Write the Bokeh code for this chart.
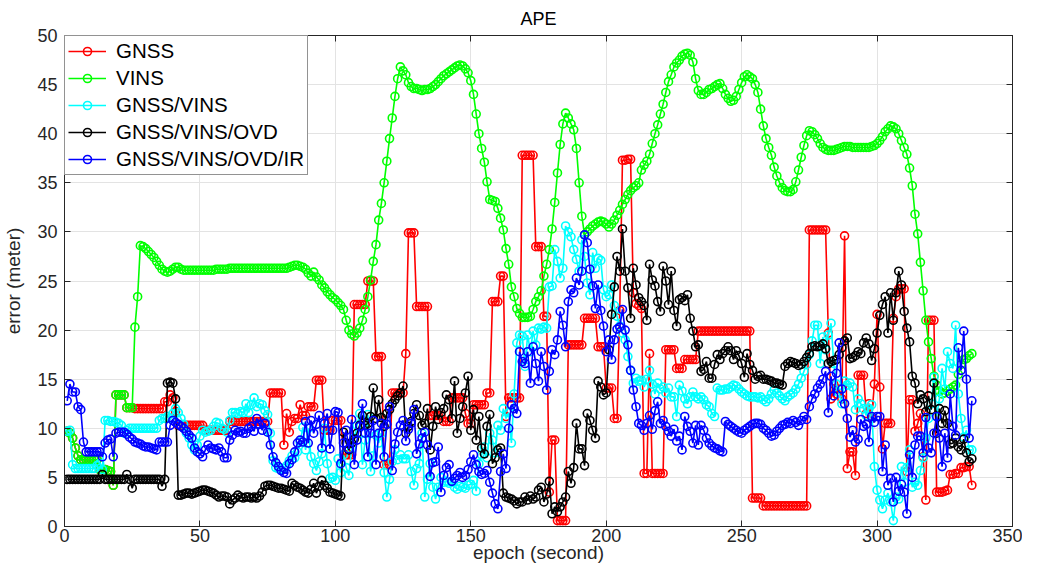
from bokeh.plotting import figure
from bokeh.models import Legend, LegendItem, LinearAxis, Range1d, FixedTicker, CustomLabelingPolicy
from bokeh.embed import file_html
from bokeh.resources import INLINE

# ---------------- data ----------------
gnss = [
    9.7, 9.5, 9.0, 8.0, 7.2, 6.8, 6.8, 6.8, 6.8, 6.8,
    6.8, 6.8, 5.8, 5.8, 5.8, 5.7, 5.6, 4.2, 13.4, 13.4,
    13.4, 13.4, 12.1, 12.1, 12.1, 12.0, 12.0, 12.0, 12.0, 12.0,
    12.0, 12.0, 12.0, 12.0, 12.0, 12.0, 12.7, 12.7, 13.4, 13.1,
    11.7, 10.3, 10.3, 10.3, 10.3, 10.3, 10.3, 10.3, 10.3, 10.3,
    10.3, 9.8, 9.8, 9.8, 9.8, 9.8, 9.8, 9.8, 9.8, 9.8,
    10.7, 10.7, 10.7, 10.7, 10.7, 10.7, 10.7, 10.7, 10.7, 10.7,
    10.7, 10.7, 10.7, 10.7, 10.7, 13.6, 13.6, 13.6, 13.6, 13.6,
    8.3, 11.5, 9.6, 10.7, 11.0, 11.0, 12.4, 11.3, 11.3, 12.2,
    12.2, 12.2, 14.9, 14.9, 14.9, 9.8, 9.8, 9.8, 10.8, 10.8,
    10.8, 10.8, 7.3, 7.3, 7.3, 7.3, 22.6, 22.6, 22.6, 22.6,
    22.6, 25.0, 25.0, 25.0, 17.3, 17.3, 17.3, 6.3, 6.3, 6.3,
    13.6, 13.6, 13.6, 13.6, 13.6, 17.6, 29.9, 29.9, 29.9, 22.4,
    22.4, 22.4, 22.4, 22.4, 11.3, 11.3, 11.3, 11.3, 11.3, 10.7,
    10.7, 10.7, 13.1, 13.1, 13.1, 13.1, 13.1, 11.5, 10.5, 10.5,
    12.4, 12.4, 12.4, 12.4, 12.4, 13.6, 13.6, 22.9, 22.9, 22.9,
    25.5, 25.5, 11.2, 13.1, 13.1, 13.1, 13.1, 13.1, 37.8, 37.8,
    37.8, 37.8, 37.8, 28.5, 28.5, 28.5, 21.4, 21.4, 3.5, 8.8,
    8.8, 0.6, 0.6, 0.6, 0.6, 18.5, 18.5, 18.5, 18.5, 18.5,
    18.5, 21.2, 21.2, 21.2, 21.2, 21.2, 18.3, 18.3, 18.3, 14.1,
    14.1, 14.1, 11.0, 11.0, 22.0, 37.3, 37.3, 37.4, 37.4, 23.8,
    22.7, 22.5, 22.2, 5.4, 5.4, 17.6, 5.4, 5.4, 5.4, 5.4,
    5.4, 18.0, 18.0, 18.0, 18.0, 16.1, 16.1, 16.1, 17.0, 17.0,
    17.0, 17.0, 17.0, 19.9, 19.9, 19.9, 19.9, 19.9, 19.9, 19.9,
    19.9, 19.9, 19.9, 19.9, 19.9, 19.9, 19.9, 19.9, 19.9, 19.9,
    19.9, 19.9, 19.9, 2.9, 2.9, 2.9, 2.9, 2.1, 2.1, 2.1,
    2.1, 2.1, 2.1, 2.1, 2.1, 2.1, 2.1, 2.1, 2.1, 2.1,
    2.1, 2.1, 2.1, 2.1, 30.2, 30.2, 30.2, 30.2, 30.2, 30.2,
    30.2, 19.7, 13.0, 14.5, 13.5, 14.0, 13.0, 29.6, 5.9, 7.6,
    7.6, 5.2, 15.4, 15.4, 15.4, 11.5, 12.5, 11.0, 14.5, 21.6,
    14.2, 7.9, 10.5, 10.5, 10.5, 21.2, 23.4, 24.2, 24.2, 24.2,
    5.6, 12.9, 12.9, 9.7, 10.5, 11.5, 7.1, 2.7, 21.0, 21.0,
    21.0, 3.5, 3.5, 3.5, 3.6, 3.7, 5.3, 5.3, 5.4, 5.4,
    6.0, 6.0, 6.1, 6.1, 4.2,
]

vins = [
    9.7, 9.5, 9.0, 8.0, 7.2, 6.8, 6.8, 6.8, 6.8, 6.8,
    6.8, 6.8, 5.8, 5.8, 5.8, 5.7, 5.6, 4.2, 13.4, 13.4,
    13.4, 13.4, 12.1, 12.1, 12.1, 20.3, 23.4, 28.6, 28.5, 28.3,
    28.0, 27.7, 27.4, 27.0, 26.6, 26.2, 26.0, 25.9, 26.0, 26.2,
    26.4, 26.4, 26.2, 26.1, 26.1, 26.1, 26.1, 26.1, 26.1, 26.1,
    26.1, 26.1, 26.1, 26.1, 26.1, 26.2, 26.2, 26.2, 26.2, 26.2,
    26.3, 26.3, 26.3, 26.3, 26.3, 26.3, 26.3, 26.3, 26.3, 26.3,
    26.3, 26.3, 26.3, 26.3, 26.3, 26.3, 26.3, 26.3, 26.3, 26.3,
    26.3, 26.3, 26.4, 26.5, 26.6, 26.6, 26.5, 26.4, 26.2, 25.8,
    25.5, 25.9, 25.4, 25.1, 24.6, 24.3, 23.9, 23.6, 23.3, 23.1,
    22.8, 22.5, 22.1, 21.0, 20.0, 19.6, 19.4, 19.7, 20.2, 21.0,
    22.1, 23.4, 25.1, 27.0, 28.7, 31.2, 32.9, 35.0, 37.2, 39.5,
    41.6, 43.8, 45.6, 46.8, 46.4, 46.0, 45.2, 44.8, 44.6, 44.6,
    44.5, 44.4, 44.5, 44.5, 44.6, 44.8, 45.0, 45.3, 45.6, 45.9,
    46.1, 46.3, 46.5, 46.7, 46.9, 47.0, 46.9, 46.6, 46.2, 45.4,
    44.0, 42.0, 40.0, 38.5, 37.1, 35.1, 33.3, 33.2, 33.1, 32.4,
    31.4, 30.2, 28.3, 26.7, 24.4, 23.4, 22.2, 21.7, 21.3, 21.3,
    21.3, 21.4, 22.1, 22.9, 23.4, 24.0, 25.5, 26.7, 28.2, 30.3,
    33.0, 36.0, 38.9, 41.0, 42.1, 41.6, 41.0, 40.4, 38.5, 35.0,
    31.6, 29.7, 30.0, 30.3, 30.6, 30.8, 31.0, 31.1, 31.0, 30.8,
    30.5, 30.8, 31.2, 31.7, 32.2, 32.8, 33.3, 33.8, 34.2, 34.5,
    34.7, 35.0, 36.3, 36.8, 37.2, 37.9, 39.0, 40.0, 40.9, 42.0,
    43.0, 44.2, 45.3, 46.0, 46.8, 47.2, 47.5, 47.9, 48.1, 48.2,
    48.0, 47.3, 45.6, 44.4, 44.0, 44.0, 44.2, 44.5, 44.6, 44.8,
    45.0, 45.1, 44.6, 44.0, 43.6, 43.3, 43.4, 43.8, 44.5, 45.2,
    45.8, 46.0, 45.8, 45.6, 45.0, 44.2, 42.5, 40.8, 39.5, 38.6,
    37.8, 36.6, 35.7, 35.0, 34.5, 34.2, 34.1, 34.1, 34.3, 35.1,
    36.3, 37.6, 38.8, 39.8, 40.3, 40.2, 39.9, 39.5, 39.0, 38.6,
    38.4, 38.3, 38.3, 38.3, 38.4, 38.5, 38.6, 38.7, 38.7, 38.7,
    38.6, 38.6, 38.6, 38.6, 38.6, 38.6, 38.6, 38.7, 38.8, 39.0,
    39.3, 39.7, 40.2, 40.5, 40.8, 40.7, 40.5, 40.0, 39.3, 38.6,
    37.9, 36.5, 34.7, 31.8, 29.8, 26.9, 24.0, 21.0, 18.8, 17.1,
    15.3, 14.4, 13.8, 13.5, 13.6, 13.8, 14.0, 14.2, 14.4, 15.5,
    16.5, 17.0, 17.1, 17.4, 17.6,
]

gnss_vins = [
    9.7, 9.8, 6.3, 5.9, 5.9, 5.9, 5.9, 5.9, 5.9, 5.9,
    5.9, 6.2, 6.4, 5.8, 10.8, 10.8, 10.7, 10.7, 10.6, 10.5,
    10.3, 9.5, 9.8, 10.0, 10.0, 10.0, 10.0, 10.0, 10.0, 10.0,
    10.0, 10.0, 10.0, 10.0, 10.8, 11.0, 11.0, 11.2, 11.0, 11.5,
    12.0, 11.6, 11.0, 10.4, 9.5, 9.0, 8.3, 7.8, 8.3, 9.2,
    9.8, 9.6, 9.7, 9.8, 10.2, 10.6, 10.5, 10.0, 9.9, 9.6,
    10.8, 11.6, 11.6, 11.5, 11.7, 11.6, 12.5, 11.6, 12.4, 13.1,
    12.2, 12.5, 12.4, 11.8, 11.4, 9.5, 6.7, 6.0, 5.9, 5.8,
    5.9, 6.2, 6.7, 7.2, 7.0, 7.6, 8.6, 10.1, 7.8, 10.0,
    7.1, 6.4, 5.7, 6.6, 7.4, 10.0, 6.4, 4.9, 5.0, 4.7,
    6.9, 5.5, 7.3, 6.0, 5.2, 7.9, 9.0, 10.3, 11.5, 6.3,
    8.8, 11.4, 5.6, 7.2, 9.3, 8.5, 9.5, 5.5, 3.0, 4.8,
    6.6, 7.8, 6.8, 7.3, 6.9, 6.9, 7.3, 5.6, 4.2, 5.9,
    6.4, 9.5, 3.0, 4.8, 6.4, 4.0, 2.8, 4.0, 5.0, 4.5,
    4.6, 4.4, 4.5, 4.0, 3.8, 4.1, 4.0, 3.9, 4.2, 4.3,
    4.7, 3.6, 6.4, 7.3, 8.1, 7.0, 9.5, 8.8, 7.5, 10.3,
    9.8, 12.0, 11.0, 11.6, 8.5, 13.5, 18.7, 19.5, 19.4, 16.3,
    19.5, 17.8, 19.9, 18.5, 20.2, 20.1, 20.3, 20.2, 24.4, 24.5,
    28.2, 27.0, 25.3, 26.3, 30.6, 30.0, 29.5, 28.2, 27.2, 26.0,
    29.2, 27.5, 24.8, 23.6, 27.9, 26.3, 27.3, 27.1, 24.1, 23.4,
    23.6, 24.6, 22.5, 21.4, 20.4, 19.7, 19.0, 17.3, 15.9, 14.6,
    15.1, 14.8, 14.9, 14.2, 15.0, 15.9, 14.5, 13.5, 14.6, 14.0,
    14.2, 13.6, 14.1, 13.2, 13.2, 11.2, 14.4, 13.8, 13.0, 12.5,
    13.2, 13.7, 13.2, 13.0, 13.2, 12.9, 12.4, 12.2, 11.5, 11.2,
    14.1, 13.9, 13.9, 14.0, 14.0, 14.2, 14.4, 14.3, 14.0, 13.7,
    13.5, 13.3, 13.2, 13.2, 13.2, 13.1, 13.2, 12.9, 12.7, 13.0,
    13.5, 13.9, 13.6, 13.3, 13.0, 12.8, 13.2, 13.4, 13.6, 14.0,
    14.5, 15.1, 15.8, 16.5, 17.5, 18.9, 20.5, 20.5, 16.6, 19.3,
    18.0, 19.5, 20.7, 16.6, 14.5, 13.6, 12.5, 14.8, 14.4, 14.6,
    14.2, 11.9, 13.0, 12.5, 12.0, 11.3, 12.0, 12.4, 6.1, 3.7,
    2.7, 1.8, 2.7, 3.4, 2.5, 0.6, 3.0, 2.8, 6.1, 4.5,
    6.0, 7.8, 4.0, 4.5, 4.2, 5.7, 7.0, 9.0, 11.0, 12.5,
    15.2, 11.2, 13.0, 16.1, 14.0, 17.8, 16.6, 16.1, 20.5, 13.5,
    11.0, 9.1, 9.8, 7.8, 7.8,
]

gnss_vins_ovd = [
    4.8, 4.8, 4.8, 4.8, 4.8, 4.8, 4.8, 4.8, 4.8, 4.8,
    4.8, 4.8, 4.8, 5.3, 4.8, 4.8, 4.8, 4.8, 4.8, 4.8,
    4.8, 4.8, 5.3, 4.8, 3.9, 4.8, 4.8, 4.8, 4.8, 4.8,
    4.8, 4.8, 4.8, 4.8, 4.8, 4.1, 4.8, 14.6, 14.7, 14.6,
    13.0, 3.2, 3.2, 3.3, 3.4, 3.4, 3.3, 3.4, 3.5, 3.6,
    3.7, 3.7, 3.6, 3.5, 3.4, 3.2, 3.0, 3.1, 3.1, 3.0,
    2.3, 2.7, 2.9, 3.2, 3.0, 2.9, 3.0, 3.0, 2.9, 3.0,
    2.9, 3.1, 3.5, 4.1, 4.2, 4.2, 4.1, 4.0, 3.9, 3.9,
    3.8, 3.7, 3.6, 4.4, 4.2, 4.0, 3.9, 3.7, 3.5, 3.4,
    3.8, 4.4, 3.4, 4.1, 4.7, 4.2, 3.9, 3.5, 3.4, 3.3,
    3.2, 3.1, 9.6, 8.5, 7.8, 8.5, 8.9, 9.5, 10.3, 11.3,
    10.3, 10.5, 11.2, 14.1, 11.0, 12.9, 11.1, 10.2, 11.5, 11.9,
    12.5, 12.9, 13.3, 13.6, 14.3, 9.5, 10.2, 10.7, 11.5, 12.4,
    11.3, 10.3, 10.5, 12.0, 7.8, 10.2, 12.2, 10.9, 11.6, 12.0,
    13.4, 12.9, 11.0, 14.8, 9.5, 11.0, 12.2, 13.6, 15.3, 9.8,
    11.9, 8.8, 11.2, 8.0, 7.4, 10.2, 11.4, 6.4, 7.0, 7.8,
    8.0, 3.4, 3.0, 2.9, 2.8, 2.6, 2.3, 2.5, 2.5, 3.0,
    2.7, 3.1, 2.8, 3.0, 3.7, 4.0, 2.5, 3.3, 4.6, 1.3,
    2.0, 1.5, 2.0, 2.5, 3.0, 5.6, 4.4, 6.0, 10.5, 7.9,
    7.9, 6.2, 11.5, 10.8, 9.8, 9.0, 14.8, 14.2, 13.4, 13.6,
    18.0, 21.6, 24.4, 27.5, 26.0, 30.3, 26.0, 24.3, 21.2, 26.3,
    24.6, 23.3, 22.9, 22.5, 21.0, 26.7, 25.1, 24.5, 22.9, 21.9,
    26.5, 25.0, 22.6, 26.0, 22.0, 20.4, 23.1, 23.3, 23.0, 23.6,
    21.2, 19.9, 18.3, 18.5, 15.8, 16.0, 16.8, 15.1, 15.1, 16.5,
    17.5, 17.0, 17.6, 17.9, 18.3, 17.9, 17.0, 17.9, 17.4, 16.6,
    15.2, 17.6, 16.5, 15.9, 15.0, 15.3, 15.4, 15.0, 15.0, 14.9,
    14.8, 14.6, 14.6, 14.5, 14.4, 16.3, 16.6, 16.8, 16.7, 16.6,
    16.4, 16.5, 16.8, 17.2, 17.6, 18.3, 18.4, 18.3, 18.4, 18.6,
    18.1, 16.6, 16.8, 16.9, 17.0, 17.5, 18.2, 18.9, 19.2, 17.1,
    17.2, 17.4, 17.8, 17.6, 18.7, 19.2, 18.6, 16.9, 18.1, 19.7,
    21.5, 22.6, 23.4, 19.7, 23.8, 21.0, 23.8, 26.0, 24.6, 21.9,
    20.2, 18.8, 15.3, 14.6, 12.5, 13.4, 13.0, 11.7, 13.3, 11.9,
    14.6, 9.5, 12.0, 10.5, 11.8, 10.5, 8.4, 8.5, 9.0, 8.1,
    7.8, 8.9, 7.5, 6.6, 6.9,
]

gnss_vins_ovd_ir = [
    12.8, 14.5, 13.7, 13.7, 12.2, 11.9, 8.6, 7.6, 7.6, 7.6,
    7.6, 7.6, 7.6, 7.1, 8.5, 8.8, 8.9, 7.1, 9.5, 9.6,
    9.6, 9.6, 9.4, 9.1, 8.9, 8.6, 8.5, 8.4, 8.2, 8.1,
    8.1, 8.0, 7.9, 7.8, 8.6, 8.6, 8.6, 8.6, 10.3, 10.8,
    10.6, 10.4, 10.2, 10.0, 9.7, 9.3, 9.0, 8.0, 7.6, 7.4,
    7.1, 7.8, 8.3, 8.0, 7.9, 7.8, 8.0, 7.6, 7.0, 7.0,
    8.8, 9.3, 9.8, 9.6, 9.7, 9.5, 9.5, 10.0, 10.2, 9.7,
    11.0, 10.4, 9.8, 10.5, 9.6, 8.3, 7.1, 6.5, 6.1, 5.7,
    5.5, 5.4, 6.4, 6.8, 7.6, 8.5, 8.8, 8.6, 10.7, 8.5,
    10.8, 9.5, 10.4, 11.3, 8.0, 10.5, 11.5, 7.9, 9.8, 11.7,
    11.6, 6.4, 8.5, 9.8, 7.9, 10.9, 6.3, 8.8, 10.2, 12.5,
    9.5, 7.1, 9.5, 10.8, 6.3, 9.5, 10.5, 7.1, 10.4, 12.2,
    5.7, 8.4, 9.6, 10.3, 10.8, 8.7, 9.9, 10.5, 11.9, 7.4,
    8.4, 9.0, 9.6, 8.3, 5.1, 6.5, 6.6, 8.1, 3.5, 5.2,
    6.0, 6.3, 4.6, 4.9, 5.2, 5.5, 5.0, 5.2, 5.8, 6.6,
    7.3, 6.3, 5.6, 5.3, 5.4, 5.7, 4.5, 3.4, 2.3, 1.8,
    5.6, 7.4, 5.9, 10.0, 12.4, 12.0, 11.5, 17.8, 16.8, 16.6,
    17.8, 14.6, 18.3, 16.6, 14.8, 17.8, 16.3, 13.9, 15.8, 18.0,
    17.5, 19.0, 21.9, 20.5, 18.3, 22.9, 24.1, 23.8, 25.3, 24.6,
    26.0, 29.7, 28.9, 26.2, 24.5, 22.2, 24.6, 22.0, 20.4, 17.8,
    19.0, 17.0, 19.0, 20.1, 20.3, 22.1, 20.0, 18.5, 15.9, 13.9,
    12.2, 10.5, 10.3, 9.8, 10.5, 11.3, 9.9, 11.8, 12.7, 10.5,
    10.8, 10.2, 9.7, 9.2, 9.9, 8.7, 9.2, 7.8, 11.2, 10.2,
    9.7, 8.5, 10.3, 8.3, 10.3, 9.8, 9.0, 8.5, 8.2, 8.0,
    7.9, 7.7, 7.6, 10.7, 10.4, 10.2, 10.0, 9.8, 9.6, 9.5,
    9.8, 10.0, 10.2, 10.4, 10.5, 10.5, 10.4, 10.0, 9.8, 9.5,
    9.2, 9.3, 9.7, 10.0, 10.3, 10.4, 10.6, 10.5, 10.8, 10.6,
    10.3, 10.8, 11.2, 10.9, 12.2, 13.0, 13.5, 14.1, 14.5, 15.0,
    15.8, 11.6, 15.3, 13.3, 15.6, 18.7, 14.0, 12.5, 11.0, 9.1,
    9.8, 8.6, 8.9, 10.9, 10.2, 10.4, 8.6, 11.2, 10.6, 11.2,
    11.2, 5.6, 8.3, 4.2, 4.9, 2.5, 5.0, 3.6, 4.3, 3.5,
    1.3, 7.3, 5.0, 8.3, 9.2, 9.2, 7.5, 11.1, 8.0, 7.5,
    9.5, 11.2, 9.0, 6.1, 9.5, 7.0, 13.5, 10.2, 9.3, 18.2,
    15.9, 19.9, 15.0, 9.0, 12.8,
]

labels = ["GNSS", "VINS", "GNSS/VINS", "GNSS/VINS/OVD", "GNSS/VINS/OVD/IR"]
colors = ["#ff0000", "#00ff00", "#00ffff", "#000000", "#0000ff"]
x_ticks = [0, 50, 100, 150, 200, 250, 300, 350]
y_ticks = [0, 5, 10, 15, 20, 25, 30, 35, 40, 45, 50]

# ---------------- figure ----------------
FONT = "Liberation Sans"
AX = "#262626"

p = figure(width=1022, height=570, x_range=Range1d(0, 350), y_range=Range1d(0, 50),
           output_backend="svg", toolbar_location=None, title="APE",
           min_border_left=58, min_border_right=10, min_border_top=28, min_border_bottom=44)
p.background_fill_color = "white"
p.border_fill_color = "white"
p.outline_line_color = AX
p.outline_line_width = 1

p.title.align = "center"
p.title.text_font = FONT
p.title.text_font_size = "18px"
p.title.text_font_style = "normal"
p.title.text_color = "#000000"
p.title.standoff = 13

for ax in (p.xaxis[0], p.yaxis[0]):
    ax.axis_line_color = AX
    ax.major_tick_line_color = AX
    ax.major_tick_in = 6
    ax.major_tick_out = 0
    ax.minor_tick_in = 0
    ax.minor_tick_out = 0
    ax.major_label_text_font = FONT
    ax.major_label_text_font_size = "18px"
    ax.major_label_text_color = AX
    ax.axis_label_text_font = FONT
    ax.axis_label_text_font_size = "19px"
    ax.axis_label_text_font_style = "normal"
    ax.axis_label_text_color = AX

p.xaxis.ticker = FixedTicker(ticks=x_ticks)
p.yaxis.ticker = FixedTicker(ticks=y_ticks)
p.xaxis.axis_label = "epoch (second)"
p.yaxis.axis_label = "error (meter)"
p.xaxis.major_label_standoff = 2
p.yaxis.major_label_standoff = 7
p.xaxis.axis_label_standoff = -3
p.yaxis.axis_label_standoff = 10

# box ticks on the top and right sides (no labels, no reserved space)
no_labels = CustomLabelingPolicy(code="return new indices.constructor(indices.size)")
for loc in ("right", "above"):
    a = LinearAxis(ticker=FixedTicker(ticks=y_ticks if loc == "right" else x_ticks),
                   major_label_policy=no_labels, major_label_standoff=0,
                   major_label_text_font_size="0px",
                   major_tick_in=6, major_tick_out=0, minor_tick_in=0, minor_tick_out=0,
                   axis_line_color=AX, major_tick_line_color=AX)
    p.add_layout(a, loc)

p.xgrid.ticker = FixedTicker(ticks=x_ticks)
p.ygrid.ticker = FixedTicker(ticks=y_ticks)
p.xgrid.grid_line_color = "#e3e3e3"
p.ygrid.grid_line_color = "#e3e3e3"
p.xgrid.grid_line_width = 1
p.ygrid.grid_line_width = 1

items = []
for name, vals, col in zip(labels, [gnss, vins, gnss_vins, gnss_vins_ovd, gnss_vins_ovd_ir], colors):
    xs = list(range(1, len(vals) + 1))
    lr = p.line(xs, vals, line_color=col, line_width=1.6)
    sr = p.scatter(xs, vals, marker="circle", size=8, fill_color=None,
                   line_color=col, line_width=1.6)
    items.append(LegendItem(label=name, renderers=[lr, sr]))

legend = Legend(items=items, location="top_left")
legend.margin = 0
legend.padding = 3
legend.spacing = 3
legend.label_text_font = FONT
legend.label_text_font_size = "20.5px"
legend.label_text_color = "#000000"
legend.glyph_width = 38
legend.glyph_height = 20
legend.label_height = 20
legend.label_standoff = 10
legend.border_line_color = AX
legend.border_line_width = 1
legend.background_fill_color = "white"
legend.background_fill_alpha = 1.0
p.add_layout(legend)

open("out.html", "w").write(file_html(p, INLINE))
